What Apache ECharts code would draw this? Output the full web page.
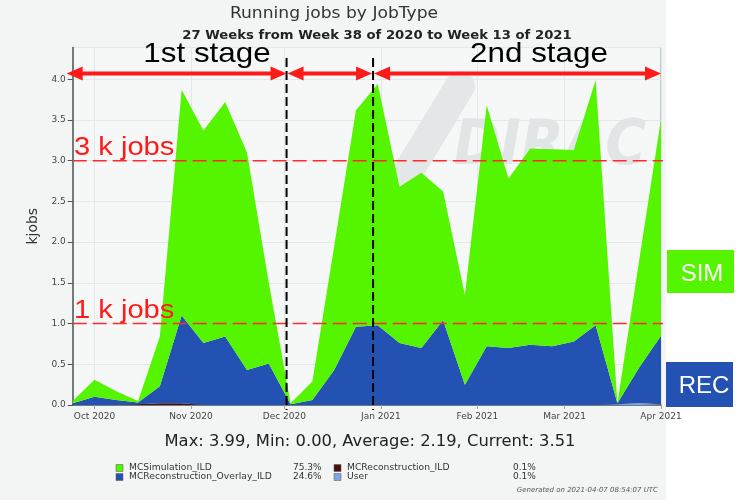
<!DOCTYPE html>
<html><head><meta charset="utf-8">
<script src="https://cdn.jsdelivr.net/npm/echarts@6/dist/echarts.min.js"></script>
<style>html,body{margin:0;padding:0;background:#fff;}#c{width:747px;height:500px;}</style>
</head><body><div id="c"></div>
<script>
// ---- data ----
const weeks = ['2020-09-24','2020-10-01','2020-10-08','2020-10-15','2020-10-22','2020-10-29',
  '2020-11-05','2020-11-12','2020-11-19','2020-11-26','2020-12-03','2020-12-10','2020-12-17',
  '2020-12-24','2020-12-31','2021-01-07','2021-01-14','2021-01-21','2021-01-28','2021-02-04',
  '2021-02-11','2021-02-18','2021-02-25','2021-03-04','2021-03-11','2021-03-18','2021-03-25','2021-04-01'];
const simulation = [0.03,0.21,0.11,0.02,0.61,2.77,2.61,2.88,2.67,0.99,0.01,0.23,1.52,2.66,2.96,
  1.92,2.15,1.58,1.10,2.96,2.08,2.41,2.42,2.35,3.01,0.00,1.32,2.66];
const overlay = [0.02,0.10,0.06,0.02,0.21,1.08,0.76,0.84,0.43,0.51,0.01,0.06,0.43,0.96,0.98,
  0.76,0.70,1.04,0.25,0.72,0.70,0.74,0.72,0.78,0.98,0.01,0.44,0.84];
const reconstruction = [0,0,0,0.01,0.02,0.02,0,0,0,0,0,0,0,0,0,0,0,0,0,0,0,0,0,0,0,0,0,0];
const user = [0,0,0,0,0,0,0,0,0,0,0,0,0,0,0,0,0,0,0,0,0,0,0,0,0,0.01,0.02,0.01];
const seriesNames = ['MCSimulation_ILD','MCReconstruction_Overlay_ILD','MCReconstruction_ILD','User'];
const seriesShares = ['75.3%','24.6%','0.1%','0.1%'];
const seriesColors = ['#55f500','#2452b2','#4a1010','#7fa6e6'];
const monthNames = ['Jan','Feb','Mar','Apr','May','Jun','Jul','Aug','Sep','Oct','Nov','Dec'];
const axisRange = ['2020-09-24','2021-04-01'];
const yMax = 4.389;
const titleText = 'Running jobs by JobType';
const subtitleText = '27 Weeks from Week 38 of 2020 to Week 13 of 2021';
const statsText = 'Max: 3.99, Min: 0.00, Average: 2.19, Current: 3.51';
const generatedText = 'Generated on 2021-04-07 08:54:07 UTC';
const stageLabels = ['1st stage','2nd stage'];
const stageBounds = ['2020-12-01 17:00','2020-12-29 12:00'];
const refLevels = [3, 1];
const refLabels = ['3 k jobs','1 k jobs'];
const boxLabels = ['SIM','REC'];

const chart = echarts.init(document.getElementById('c'), null, {renderer:'canvas'});
const DF = 'DejaVu Sans';
function pairs(arr){ return weeks.map((w,i)=>[w, arr[i]]); }
function areaSeries(name, arr, color){
  return {name, type:'line', stack:'total', data:pairs(arr), showSymbol:false, symbol:'none',
    lineStyle:{width:0}, areaStyle:{color, opacity:1}, itemStyle:{color}, z:2, silent:true};
}
chart.setOption({
  animation:false,
  backgroundColor:'#ffffff',
  grid:{left:72.7, right:86, top:47.5, bottom:95, show:true, backgroundColor:'#f6f7f7',
    borderColor:'#8c9899', borderWidth:1},
  xAxis:{type:'time', min:axisRange[0], max:axisRange[1],
    minInterval:28*86400000, maxInterval:31*86400000,
    axisLine:{show:true, lineStyle:{color:'#4d5657', width:1.5}},
    axisTick:{show:true, length:4, lineStyle:{color:'#9aa5a6'}},
    splitLine:{show:true, lineStyle:{color:'#e4e8e8', width:1}},
    axisLabel:{fontSize:9, color:'#444', fontFamily:DF, margin:7, hideOverlap:false,
      formatter:function(v){ const d=new Date(v); return monthNames[d.getMonth()]+' '+d.getFullYear(); }}},
  yAxis:{type:'value', min:0, max:yMax, interval:0.5,
    name:'kjobs', nameLocation:'middle', nameGap:27, nameRotate:90,
    nameTextStyle:{fontSize:14, color:'#333', fontFamily:DF},
    axisLine:{show:true, lineStyle:{color:'#4d5657', width:1.5}},
    axisTick:{show:true, length:5, lineStyle:{color:'#4d5657'}},
    splitLine:{show:true, lineStyle:{color:'#e4e8e8', width:1}},
    axisLabel:{fontSize:9, color:'#444', fontFamily:DF, margin:7, showMaxLabel:false,
      formatter:function(v){ return v.toFixed(1); }}},
  series:[
    areaSeries(seriesNames[3], user, seriesColors[3]),
    areaSeries(seriesNames[2], reconstruction, seriesColors[2]),
    areaSeries(seriesNames[1], overlay, seriesColors[1]),
    areaSeries(seriesNames[0], simulation, seriesColors[0])
  ]
});

function px(t, v){ return chart.convertToPixel({gridIndex:0}, [t, v]); }
const left = px(axisRange[0], 0)[0], right = px(axisRange[1], 0)[0];
const xB1 = px(stageBounds[0], 0)[0], xB2 = px(stageBounds[1], 0)[0];
const yArrow = px(axisRange[0], 4.07)[1];
const RED = '#ff1a1a';
const g = [];
function txt(t, x, y, font, fill, align, sx, z){
  return {type:'text', x, y, originX:0, originY:0, scaleX:sx||1,
    style:{text:t, font, fill, align:align||'center', verticalAlign:'middle', textAlign:align||'center', textVerticalAlign:'middle'}, z:z||50, silent:true};
}
// backgrounds
g.push({type:'rect', shape:{x:0,y:0,width:666,height:500}, style:{fill:'#f3f5f5'}, z:-10, silent:true});
// watermark
g.push({type:'line', shape:{x1:460,y1:86,x2:408,y2:172}, style:{stroke:'#e4e7e7', lineWidth:30, lineCap:'round'}, z:1, silent:true});
g.push(txt('DIRAC', 550, 148, 'italic bold 62px "DejaVu Sans"', '#e2e5e5', 'center', 0.9, 1));
// titles
g.push(txt(titleText, 334, 14, '16px "DejaVu Sans"', '#333', 'center', 1.07));
g.push(txt(subtitleText, 377, 36, 'bold 12px "DejaVu Sans"', '#222', 'center', 1.1));
g.push(txt(statsText, 370, 442, '15px "DejaVu Sans"', '#222', 'center', 1.09));
// legend
const legX = [116, 334], pctX = [293, 513], rowY = [468, 477];
const order = [[0,0],[1,0],[2,1],[3,1]]; // [seriesIndex, column]
order.forEach(([si, col])=>{
  const ry = rowY[si % 2 === 0 ? 0 : 1];
  g.push({type:'rect', shape:{x:legX[col], y:ry-3.5, width:7, height:7}, style:{fill:seriesColors[si], stroke:'#555', lineWidth:0.5}, z:50, silent:true});
  g.push(txt(seriesNames[si], legX[col]+13, ry, '9px "DejaVu Sans"', '#333', 'left', 1.02));
  g.push(txt(seriesShares[si], pctX[col], ry, '9px "DejaVu Sans"', '#333', 'left', 1.0));
});
g.push(txt(generatedText, 658, 490, 'italic 7px "DejaVu Sans"', '#555', 'right', 1.0));
// reference lines 3k / 1k
refLevels.forEach((lv, k)=>{
  const y = px(axisRange[0], lv)[1];
  g.push({type:'line', shape:{x1:left, y1:y, x2:663, y2:y}, style:{stroke:'#ff2a2a', lineWidth:1.5, lineDash:[14,6]}, z:60, silent:true});
  g.push(txt(refLabels[k], 74, y-13, '26px "Liberation Sans"', '#ff1a1a', 'left', 1.12, 61));
});
// stage boundaries
[xB1, xB2].forEach(x=>{
  g.push({type:'line', shape:{x1:x, y1:58, x2:x, y2:410}, style:{stroke:'#000', lineWidth:2, lineDash:[9,4]}, z:70, silent:true});
});
// double arrows
function arrow(xa, xb){
  const L=16, H=7;
  g.push({type:'line', shape:{x1:xa+L-2, y1:yArrow, x2:xb-L+2, y2:yArrow}, style:{stroke:RED, lineWidth:4}, z:71, silent:true});
  g.push({type:'polygon', shape:{points:[[xa,yArrow],[xa+L,yArrow-H],[xa+L,yArrow+H]]}, style:{fill:RED}, z:71, silent:true});
  g.push({type:'polygon', shape:{points:[[xb,yArrow],[xb-L,yArrow-H],[xb-L,yArrow+H]]}, style:{fill:RED}, z:71, silent:true});
}
arrow(left-6, xB1); arrow(xB1+1, xB2-1); arrow(xB2+1, right);
g.push(txt(stageLabels[0], 207, 54.5, '28px "Liberation Sans"', '#000', 'center', 1.12, 72));
g.push(txt(stageLabels[1], 539, 54.5, '28px "Liberation Sans"', '#000', 'center', 1.12, 72));
// side boxes
g.push({type:'rect', shape:{x:667, y:250, width:67, height:43}, style:{fill:seriesColors[0]}, z:50, silent:true});
g.push(txt(boxLabels[0], 702, 274, '24px "Liberation Sans"', '#fff', 'center', 1.0));
g.push({type:'rect', shape:{x:666, y:362, width:67, height:45}, style:{fill:seriesColors[1]}, z:50, silent:true});
g.push(txt(boxLabels[1], 704, 386, '24px "Liberation Sans"', '#fff', 'center', 1.0));
chart.setOption({graphic:g});
</script></body></html>
